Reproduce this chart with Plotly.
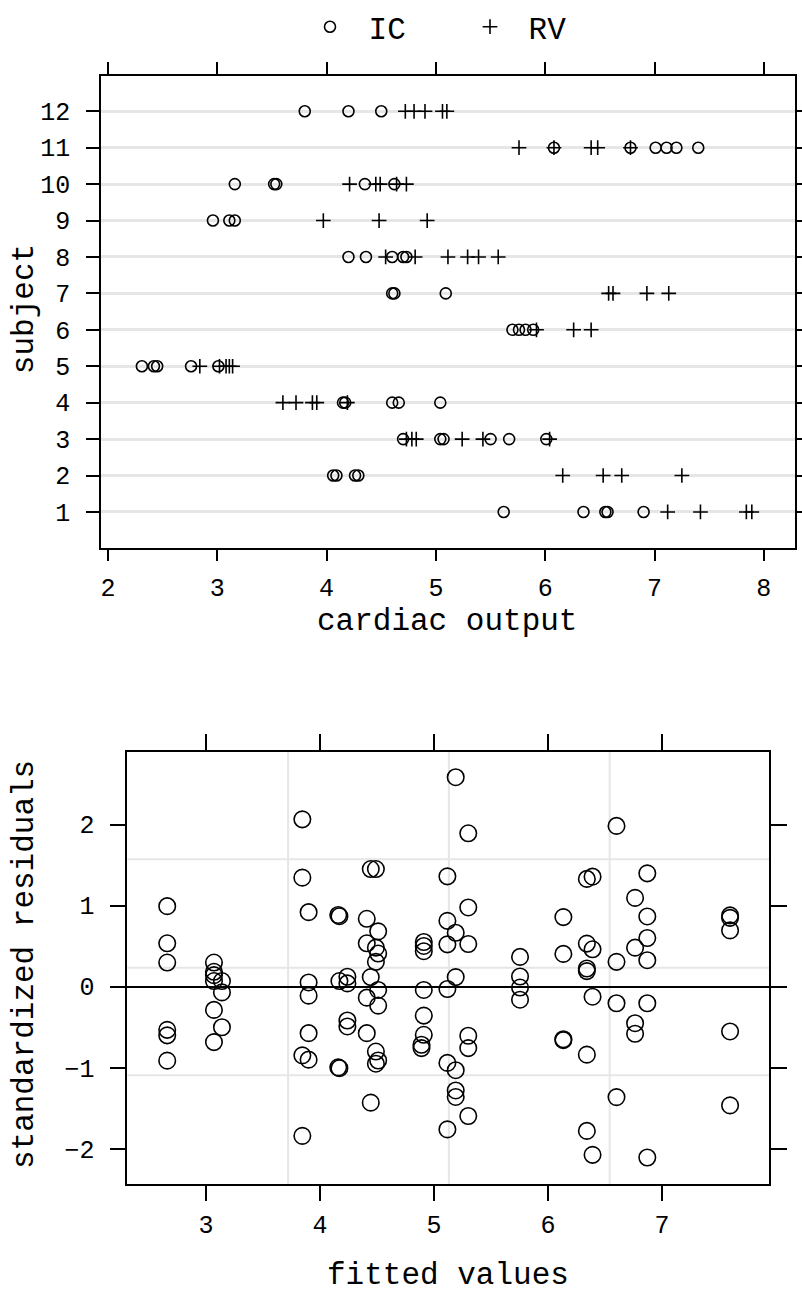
import plotly.graph_objects as go

# ---------------- data: top panel (cardiac output by subject) ----------------
ic_subject = [1, 1, 1, 1, 1,
              2, 2, 2, 2,
              3, 3, 3, 3, 3, 3,
              4, 4, 4, 4, 4,
              5, 5, 5, 5, 5,
              6, 6, 6, 6,
              7, 7, 7,
              8, 8, 8, 8, 8,
              9, 9, 9,
              10, 10, 10, 10, 10,
              11, 11, 11, 11, 11, 11,
              12, 12, 12]
ic_output = [5.62, 6.35, 6.55, 6.57, 6.90,
             4.06, 4.09, 4.26, 4.29,
             4.70, 5.04, 5.07, 5.50, 5.67, 6.01,
             4.15, 4.17, 4.60, 4.66, 5.04,
             2.31, 2.42, 2.45, 2.76, 3.01,
             5.70, 5.76, 5.82, 5.89,
             4.60, 4.62, 5.09,
             4.20, 4.36, 4.60, 4.70, 4.73,
             2.96, 3.11, 3.16,
             3.16, 3.52, 3.54, 4.35, 4.62,
             6.08, 6.78, 7.01, 7.11, 7.20, 7.40,
             3.80, 4.20, 4.50]

rv_subject = [1, 1, 1, 1,
              2, 2, 2, 2,
              3, 3, 3, 3, 3, 3,
              4, 4, 4, 4, 4,
              5, 5, 5, 5, 5,
              6, 6, 6,
              7, 7, 7, 7,
              8, 8, 8, 8, 8, 8,
              9, 9, 9,
              10, 10, 10, 10, 10,
              11, 11, 11, 11, 11,
              12, 12, 12, 12, 12]
rv_output = [7.12, 7.42, 7.84, 7.89,
             6.16, 6.53, 6.70, 7.25,
             4.73, 4.78, 4.82, 5.24, 5.43, 6.04,
             3.60, 3.72, 3.87, 3.91, 4.19,
             2.84, 3.02, 3.08, 3.11, 3.14,
             5.92, 6.26, 6.42,
             6.58, 6.62, 6.93, 7.13,
             4.54, 4.81, 5.11, 5.29, 5.39, 5.57,
             3.97, 4.48, 4.92,
             4.21, 4.45, 4.49, 4.64, 4.73,
             5.76, 6.08, 6.42, 6.48, 6.78,
             4.72, 4.80, 4.90, 5.06, 5.10]

subject_ticks = list(range(1, 13))
output_ticks = [2, 3, 4, 5, 6, 7, 8]

# ---------------- data: bottom panel (residuals vs fitted) ----------------
fitted = [2.66, 2.66, 2.66, 2.66, 2.66, 2.66,
          3.07, 3.07, 3.07, 3.07, 3.07, 3.07,
          3.14, 3.14, 3.14,
          3.845, 3.845, 3.845, 3.845,
          3.90, 3.90, 3.90, 3.90, 3.90,
          4.16, 4.17, 4.17, 4.16, 4.17,
          4.24, 4.24, 4.24, 4.24,
          4.41, 4.41, 4.41, 4.41,
          4.445, 4.445, 4.445,
          4.49, 4.49, 4.49, 4.49, 4.49,
          4.51, 4.51, 4.51, 4.51, 4.51,
          4.91, 4.91, 4.91, 4.91, 4.91, 4.91, 4.89, 4.89,
          5.117, 5.117, 5.117, 5.117, 5.117, 5.117,
          5.19, 5.19, 5.19, 5.19, 5.19, 5.19,
          5.30, 5.30, 5.30, 5.30, 5.30, 5.30,
          5.754, 5.754, 5.754, 5.754,
          6.134, 6.134, 6.134, 6.134,
          6.34, 6.34, 6.34, 6.34, 6.34, 6.34,
          6.39, 6.39, 6.39, 6.39,
          6.60, 6.60, 6.60, 6.60,
          6.763, 6.763, 6.763, 6.763,
          6.87, 6.87, 6.87, 6.87, 6.87, 6.87,
          7.596, 7.596, 7.596, 7.596, 7.596]
resid = [0.994, 0.536, 0.298, -0.532, -0.60, -0.912,
         0.298, 0.184, 0.143, 0.07, -0.286, -0.683,
         0.07, -0.07, -0.50,
         2.065, 1.346, -0.847, -1.84,
         0.92, 0.053, -0.11, -0.573, -0.90,
         0.885, 0.87, 0.07, -0.995, -1.005,
         0.123, 0.041, -0.417, -0.49,
         0.838, 0.536, -0.135, -0.573,
         1.452, 0.119, -1.43,
         1.452, 0.482, 0.307, -0.80, -0.95,
         0.683, 0.409, -0.04, -0.233, -0.91,
         0.552, 0.503, 0.438, -0.04, -0.356, -0.593, -0.716, -0.757,
         1.362, 0.813, 0.523, -0.028, -0.94, -1.76,
         2.585, 0.666, 0.119, -1.03, -1.28, -1.36,
         1.893, 0.978, 0.527, -0.605, -0.757, -1.595,
         0.368, 0.126, -0.01, -0.16,
         0.859, 0.405, -0.648, -0.66,
         1.33, 0.532, 0.225, 0.193, -0.838, -1.779,
         1.358, 0.462, -0.123, -2.074,
         1.984, 0.307, -0.204, -1.362,
         1.096, 0.482, -0.45, -0.58,
         1.399, 0.867, 0.601, 0.327, -0.204, -2.107,
         0.88, 0.85, 0.695, -0.552, -1.464]

fitted_ticks = [3, 4, 5, 6, 7]
resid_ticks = [-2, -1, 0, 1, 2]
resid_ticktext = ["\u22122", "\u22121", "0", "1", "2"]
grid_x_bottom = [3.72, 5.13, 6.54]
grid_y_bottom = [1.574, 0.233, -1.092]

FONT = "Liberation Mono, Courier New, monospace"
W, H = 802, 1293

fig = go.Figure()

fig.add_trace(go.Scatter(
    x=ic_output, y=ic_subject, mode="markers", name=" IC",
    marker=dict(symbol="circle-open", size=11, color="black",
                line=dict(width=1.6, color="black")),
    xaxis="x", yaxis="y"))
fig.add_trace(go.Scatter(
    x=rv_output, y=rv_subject, mode="markers", name=" RV",
    marker=dict(symbol="cross-thin-open", size=10.5, color="black",
                line=dict(width=1.6, color="black")),
    xaxis="x", yaxis="y"))
fig.add_trace(go.Scatter(
    x=fitted, y=resid, mode="markers", showlegend=False,
    marker=dict(symbol="circle-open", size=16.5, color="black",
                line=dict(width=1.6, color="black")),
    xaxis="x2", yaxis="y2"))

shapes = []
for gx in grid_x_bottom:
    shapes.append(dict(type="line", xref="x2", yref="y2 domain", x0=gx, x1=gx,
                       y0=0, y1=1, line=dict(color="#e6e6e6", width=2), layer="below"))
for gy in grid_y_bottom:
    shapes.append(dict(type="line", xref="x2 domain", yref="y2", x0=0, x1=1,
                       y0=gy, y1=gy, line=dict(color="#e6e6e6", width=2), layer="below"))

axis_common = dict(showline=True, linecolor="black", linewidth=1.5, mirror="ticks",
                   ticks="outside", tickcolor="black", tickwidth=2,
                   tickfont=dict(family=FONT, size=25, color="black"),
                   automargin=False)

annotations = [
    dict(text="cardiac output", x=446.5 / W, y=1 - 617 / H, xref="paper", yref="paper",
         showarrow=False, xanchor="center", yanchor="middle",
         font=dict(family=FONT, size=31, color="black")),
    dict(text="subject", x=24 / W, y=1 - 303 / H, xref="paper", yref="paper",
         showarrow=False, xanchor="center", yanchor="middle", textangle=-90,
         font=dict(family=FONT, size=31, color="black")),
    dict(text="standardized residuals", x=24 / W, y=1 - 963 / H, xref="paper", yref="paper",
         showarrow=False, xanchor="center", yanchor="middle", textangle=-90,
         font=dict(family=FONT, size=31, color="black")),
    dict(text="fitted values", x=448 / W, y=1 - 1275 / H, xref="paper", yref="paper",
         showarrow=False, xanchor="center", yanchor="middle",
         font=dict(family=FONT, size=31, color="black")),
]

fig.update_layout(
    width=W, height=H, autosize=False,
    margin=dict(l=0, r=0, t=0, b=0),
    paper_bgcolor="white", plot_bgcolor="white",
    font=dict(family=FONT, color="black"),
    showlegend=True,
    legend=dict(orientation="h", x=310 / W, xanchor="left", y=1 + 8 / H, yanchor="top",
                font=dict(family=FONT, size=31, color="black"),
                bgcolor="rgba(0,0,0,0)", entrywidth=115, entrywidthmode="pixels",
                itemclick=False),
    xaxis=dict(domain=[101 / W, 795 / W], anchor="y", range=[1.936, 8.285],
               tickvals=output_ticks, ticklen=12, showgrid=False, zeroline=False,
               ticklabelstandoff=5, **axis_common),
    yaxis=dict(domain=[1 - 543 / H, 1 - 68 / H], anchor="x", range=[0.02, 12.98],
               tickvals=subject_ticks, ticklen=13, showgrid=True, zeroline=False,
               gridcolor="#e6e6e6", gridwidth=3, ticklabelstandoff=11, **axis_common),
    xaxis2=dict(domain=[127.3 / W, 769.3 / W], anchor="y2", range=[2.31, 7.94],
                tickvals=fitted_ticks, ticklen=16, showgrid=False, zeroline=False,
                ticklabelstandoff=2, **axis_common),
    yaxis2=dict(domain=[1 - 1183 / H, 1 - 748.3 / H], anchor="x2", range=[-2.43, 2.90],
                tickvals=resid_ticks, ticktext=resid_ticktext,
                ticklen=16, showgrid=False, ticklabelstandoff=10,
                zeroline=True, zerolinecolor="black", zerolinewidth=2, **axis_common),
    shapes=shapes,
    annotations=annotations,
)

fig.write_html("out.html", config={"displayModeBar": False},
               post_script="document.body.style.margin='0';")
